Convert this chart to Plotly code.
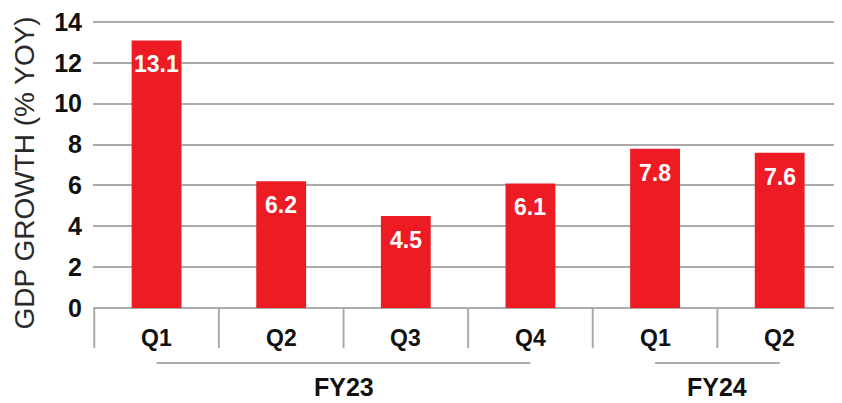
import plotly.graph_objects as go

# ---- data ----
quarters = ["Q1", "Q2", "Q3", "Q4", "Q1", "Q2"]
fiscal_years = ["FY23", "FY23", "FY23", "FY23", "FY24", "FY24"]
gdp_growth = [13.1, 6.2, 4.5, 6.1, 7.8, 7.6]
y_ticks = [0, 2, 4, 6, 8, 10, 12, 14]
y_title = "GDP GROWTH (% YOY)"

RED = "#ED1C24"
GRID = "#ABABAB"
BOLD = "Liberation Sans, Arial, sans-serif"

idx = list(range(len(quarters)))

fig = go.Figure()
fig.add_trace(go.Bar(
    x=idx, y=gdp_growth, width=0.4,
    marker=dict(color=RED, line=dict(width=0)),
    hoverinfo="skip",
))

# value labels inside top of bars
for i, v in zip(idx, gdp_growth):
    fig.add_annotation(x=i, y=v, xref="x", yref="y",
                       text=f'<span style="font-stretch:condensed">{v}</span>',
                       showarrow=False, yanchor="top", yshift=-9,
                       font=dict(family=BOLD, size=23, color="white", weight="bold"))

# quarter labels
for i, q in zip(idx, quarters):
    fig.add_annotation(x=i, y=-0.105, xref="x", yref="paper", text=q,
                       showarrow=False, yanchor="middle",
                       font=dict(family=BOLD, size=23, color="#111111", weight="bold"))

# category separators
for b in [i - 0.5 for i in idx] + [idx[-1] + 0.5]:
    fig.add_shape(type="line", xref="x", yref="paper", x0=b, x1=b, y0=0, y1=-0.14,
                  line=dict(color=GRID, width=2))

# fiscal year brackets and labels
groups = []
for i, fy in zip(idx, fiscal_years):
    if groups and groups[-1][0] == fy:
        groups[-1][2] = i
    else:
        groups.append([fy, i, i])
for fy, a, b in groups:
    fig.add_shape(type="line", xref="x", yref="paper", x0=a, x1=b, y0=-0.192, y1=-0.192,
                  line=dict(color=GRID, width=2))
    fig.add_annotation(x=(a + b) / 2, y=-0.276, xref="x", yref="paper", text=fy,
                       showarrow=False, yanchor="middle",
                       font=dict(family=BOLD, size=25, color="#111111", weight="bold"))

# y-axis title
fig.add_annotation(x=-0.0908, y=0.472, xref="paper", yref="paper", text=y_title,
                   textangle=-90, showarrow=False, xanchor="center", yanchor="middle",
                   font=dict(family="Liberation Sans, Arial, sans-serif", size=28, color="#2a2a2a"))

# page body has an 8px margin, so the figure is offset by 8px right/down
fig.update_layout(
    width=834, height=395,
    margin=dict(l=85, r=0, t=13, b=95, autoexpand=False),
    paper_bgcolor="white", plot_bgcolor="white",
    showlegend=False,
    bargap=0.6,
    xaxis=dict(range=[-0.51, 5.5], showticklabels=False, showgrid=False, automargin=False,
               zeroline=False, showline=False, ticks="", fixedrange=True),
    yaxis=dict(range=[0, 14.05], tickvals=y_ticks, showgrid=True, gridcolor=GRID, gridwidth=2,
               automargin=False, ticklabeloverflow="allow",
               zeroline=True, zerolinecolor=GRID, zerolinewidth=2, showline=False,
               ticks="outside", ticklen=5, tickcolor="rgba(0,0,0,0)",
               tickfont=dict(family=BOLD, size=25, color="#111111", weight="bold")),
)

fig.write_html("out.html")
